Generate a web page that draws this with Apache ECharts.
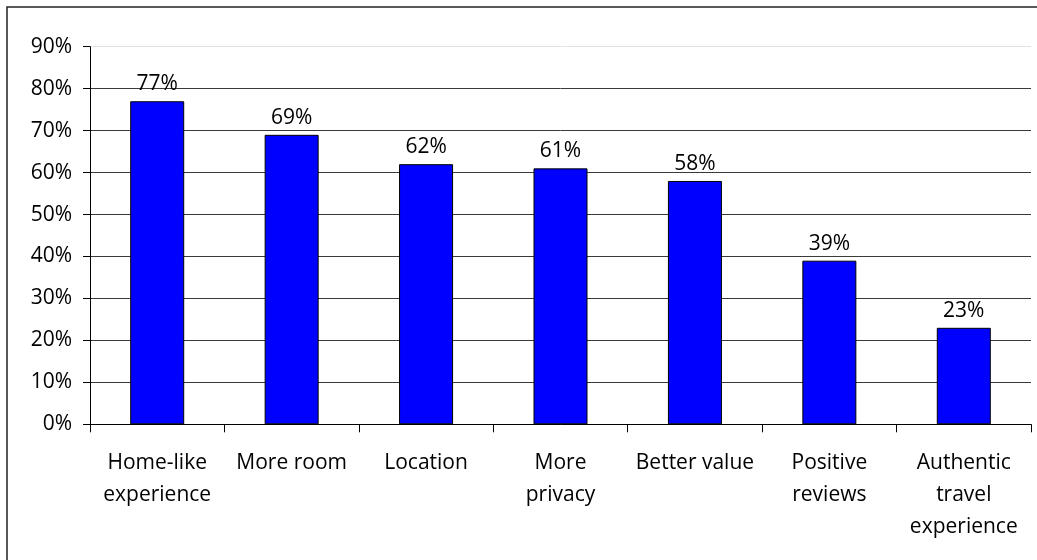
<!DOCTYPE html>
<html>
<head>
<meta charset="utf-8">
<script src="https://cdn.jsdelivr.net/npm/echarts@6/dist/echarts.min.js"></script>
<style>
  html, body { margin: 0; padding: 0; background: #fff; }
  #chart { width: 1037px; height: 560px; }
</style>
</head>
<body>
<div id="chart"></div>
<script>
// Reasons for choosing a vacation rental (share of respondents)
const categories = [
  'Home-like\nexperience',
  'More room',
  'Location',
  'More\nprivacy',
  'Better value',
  'Positive\nreviews',
  'Authentic\ntravel\nexperience'
];
const shares = [77, 69, 62, 61, 58, 39, 23];
const yTicks = { min: 0, max: 90, interval: 10 };

const FONT = '"Open Sans", "Noto Sans", sans-serif';
const chart = echarts.init(document.getElementById('chart'), null, { renderer: 'canvas' });

// gridline colours: dark lines, the top (90%) line is faint
const gridColors = [];
for (let v = yTicks.min; v <= yTicks.max; v += yTicks.interval) {
  gridColors.push(v === yTicks.max ? '#e2e2e2' : '#3a3a3a');
}

chart.setOption({
  animation: false,
  backgroundColor: '#ffffff',
  graphic: [{
    type: 'rect',
    shape: { x: 7, y: 7, width: 1100, height: 700 },
    style: { fill: 'none', stroke: '#222', lineWidth: 1.5 },
    silent: true
  }],
  grid: { left: 90, right: 6, top: 46.7, bottom: 135.7, containLabel: false },
  xAxis: {
    type: 'category',
    data: categories,
    axisLine: { show: true, lineStyle: { color: '#000', width: 1 } },
    axisTick: { show: true, length: 8, alignWithLabel: false, lineStyle: { color: '#000' } },
    axisLabel: {
      interval: 0,
      margin: 23,
      color: '#000',
      fontFamily: FONT,
      fontSize: 21,
      lineHeight: 32
    },
    splitLine: { show: false }
  },
  yAxis: {
    type: 'value',
    min: yTicks.min,
    max: yTicks.max,
    interval: yTicks.interval,
    axisLine: { show: true, lineStyle: { color: '#000', width: 1 } },
    axisTick: { show: true, length: 7, lineStyle: { color: '#000' } },
    axisLabel: {
      formatter: '{value}%',
      margin: 18,
      color: '#000',
      fontFamily: FONT,
      fontSize: 21,
      padding: [7, 0, 0, 0]
    },
    splitLine: { show: true, lineStyle: { color: gridColors, width: 1 } }
  },
  series: [{
    type: 'bar',
    data: shares,
    barWidth: 54,
    itemStyle: { color: '#0000ff', borderColor: '#000', borderWidth: 1 },
    label: {
      show: true,
      position: 'top',
      distance: 6,
      formatter: '{c}%',
      color: '#000',
      fontFamily: FONT,
      fontSize: 21,
      lineHeight: 22
    }
  }]
});
</script>
</body>
</html>
